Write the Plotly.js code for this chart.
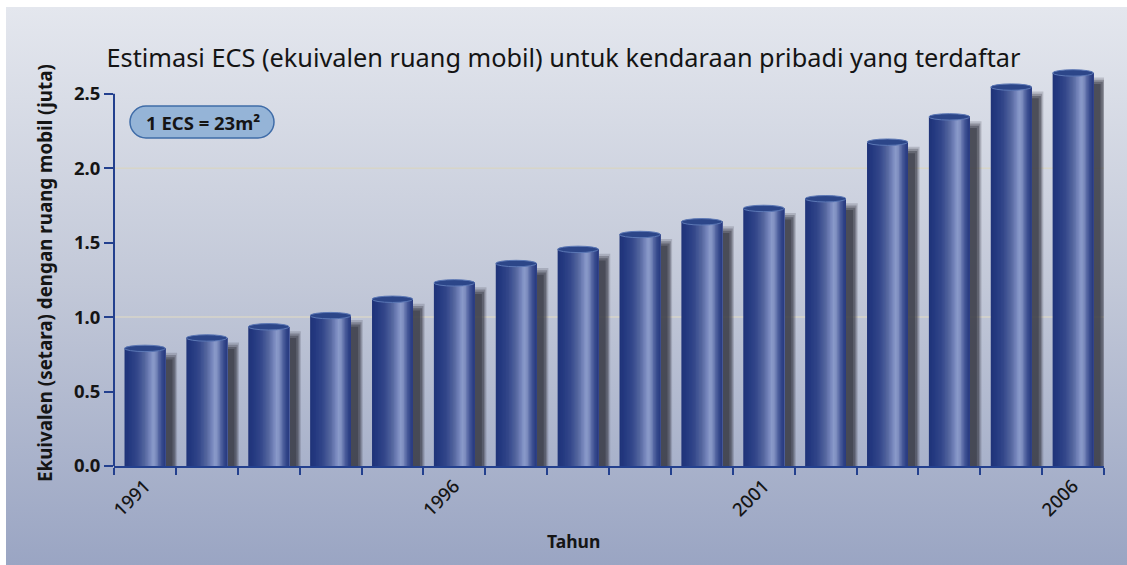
<!DOCTYPE html>
<html><head><meta charset="utf-8">
<script src="https://cdn.plot.ly/plotly-3.0.1.min.js"></script>
<style>
html,body{margin:0;padding:0;background:#ffffff;overflow:hidden;}
#bg{position:absolute;left:6px;top:7px;width:1121px;height:558px;background:linear-gradient(to bottom,#e4e7ee 0%,#c2c8d8 50%,#9aa5c3 100%);}
#chart{position:absolute;left:0;top:0;width:1127px;height:565px;}
</style></head><body>
<div id="bg"></div><div id="chart"></div>
<script>
// ---- data ----
const years = ['1991','1992','1993','1994','1995','1996','1997','1998','1999','2000','2001','2002','2003','2004','2005','2006'];
const ecsMillions = [0.79, 0.86, 0.935, 1.01, 1.12, 1.23, 1.36, 1.455, 1.555, 1.64, 1.73, 1.795, 2.175, 2.345, 2.545, 2.64];
const labelledYears = ['1991','1996','2001','2006'];
const yTicks = [0, 0.5, 1.0, 1.5, 2.0, 2.5];
const gridValues = [1.0, 2.0];
const titleText = 'Estimasi ECS (ekuivalen ruang mobil) untuk kendaraan pribadi yang terdaftar';
const yTitleText = 'Ekuivalen (setara) dengan ruang mobil (juta)';
const xTitleText = 'Tahun';
const noteText = '1 ECS = 23m²';

// ---- styling ----
const FONT = 'Noto Sans, Open Sans, sans-serif';
const AXIS = '#23408e';
const W = 1127, H = 565;
const M = {l:114, r:23, t:64, b:99};
const YMAX = 2.7;
const BARW = 0.66;
const px2x = p => (p - M.l) / (W - M.l - M.r);
const px2y = p => (H - M.b - p) / (H - M.t - M.b);

const stops = [[0,'#1f3378'],[0.12,'#243980'],[0.3,'#32468a'],[0.5,'#55679f'],[0.62,'#7585bb'],[0.7,'#8a9aca'],[0.76,'#8090c1'],[0.85,'#50629f'],[0.93,'#33468a'],[1,'#27397f']];
function hex(c){return [parseInt(c.slice(1,3),16),parseInt(c.slice(3,5),16),parseInt(c.slice(5,7),16)];}
function colorAt(t){
  for(let i=0;i<stops.length-1;i++){
    const [a,ca]=stops[i],[b,cb]=stops[i+1];
    if(t>=a&&t<=b){const f=(t-a)/(b-a);const A=hex(ca),B=hex(cb);
      return 'rgb('+A.map((v,k)=>Math.round(v+(B[k]-v)*f)).join(',')+')';}
  }
  return stops[stops.length-1][1];
}

const traces = [];
// soft drop shadows
const shadowLayers = [
  {dx:0.15, w:BARW+0.08, top:-0.03, base:-0.065, col:'rgba(55,57,68,0.20)'},
  {dx:0.15, w:BARW+0.04, top:-0.045, base:-0.055, col:'rgba(55,57,68,0.32)'},
  {dx:0.15, w:BARW,      top:-0.06, base:-0.045, col:'rgba(55,57,68,0.45)'},
  {dx:0.14, w:BARW-0.05, top:-0.075, base:-0.035, col:'rgba(55,57,68,0.55)'}
];
shadowLayers.forEach(s=>{
  traces.push({type:'bar', x:years, y:ecsMillions.map(v=>v+s.top-s.base), base:s.base,
    width:s.w, offset:-s.w/2+s.dx, marker:{color:s.col, line:{width:0}},
    cliponaxis:false, hoverinfo:'skip', showlegend:false});
});
// cylinder body: nested strips (each reaches the right edge, so no seams)
const N = 28;
const sw = BARW/N;
for(let i=0;i<N;i++){
  traces.push({type:'bar', x:years, y:ecsMillions, width:BARW-i*sw, offset:-BARW/2+i*sw,
    marker:{color:colorAt((i+0.5)/N), line:{width:0}}, cliponaxis:false,
    hoverinfo:i===0?'x+y':'skip', showlegend:false});
}

const shapes = [];
gridValues.forEach(g=>shapes.push({type:'line', xref:'paper', x0:0, x1:1, yref:'y', y0:g, y1:g,
  line:{color:'#d7d5c8', width:1.5}, layer:'below'}));
shapes.push({type:'line', xref:'paper', x0:0, x1:0, yref:'y', y0:yTicks[0], y1:yTicks[yTicks.length-1],
  line:{color:AXIS, width:2}, layer:'above'});
// cylinder tops
ecsMillions.forEach((v,i)=>{
  shapes.push({type:'circle', xref:'x', yref:'y', x0:i-BARW/2, x1:i+BARW/2,
    ysizemode:'pixel', yanchor:v, y0:-3.2, y1:3.2,
    fillcolor:'#2c4689', line:{color:'#5b77b5', width:1}, layer:'above'});
});
// note pill
const P = (x,y)=>px2x(x).toFixed(5)+','+px2y(y).toFixed(5);
const pill = 'M'+P(146,106)+' L'+P(258,106)+' C'+P(266.8,106)+' '+P(274,113.2)+' '+P(274,122)+
  ' C'+P(274,130.8)+' '+P(266.8,138)+' '+P(258,138)+' L'+P(146,138)+' C'+P(137.2,138)+' '+P(130,130.8)+' '+P(130,122)+
  ' C'+P(130,113.2)+' '+P(137.2,106)+' '+P(146,106)+' Z';
shapes.push({type:'path', xref:'paper', yref:'paper', path:pill, fillcolor:'#95b4d7', line:{color:'#3f6ca8', width:1.5}, layer:'above'});

const layout = {
  width:W, height:H, margin:M,
  paper_bgcolor:'rgba(0,0,0,0)', plot_bgcolor:'rgba(0,0,0,0)',
  barmode:'overlay', showlegend:false,
  title:{text:titleText, font:{family:FONT, size:25.3, color:'#141414'}, xref:'container', x:0.5, xanchor:'center', yref:'container', y:1-58/H, yanchor:'middle'},
  xaxis:{type:'category', range:[-0.5, years.length-0.5], tickvals:years,
    ticktext:years.map(y=>labelledYears.includes(y)?y:''), tickson:'boundaries',
    ticks:'outside', ticklen:7, tickwidth:2, tickcolor:AXIS, showline:true, linecolor:AXIS, linewidth:2,
    showgrid:false, zeroline:false, tickangle:-45, automargin:false,
    tickfont:{family:FONT, size:18.5, color:'#151515', weight:500}, fixedrange:true},
  yaxis:{range:[0, YMAX], tickvals:yTicks, tickformat:'.1f', ticks:'outside', ticklen:9, tickwidth:2, tickcolor:AXIS,
    showline:false, showgrid:false, zeroline:false, automargin:false,
    tickfont:{family:FONT, size:18.5, color:'#151515', weight:'bold'}, fixedrange:true},
  shapes:shapes,
  annotations:[
    {text:yTitleText, xref:'paper', yref:'paper', x:px2x(45), y:px2y(273), textangle:-90, showarrow:false,
     xanchor:'center', yanchor:'middle', font:{family:FONT, size:18.8, color:'#151515', weight:'bold'}},
    {text:xTitleText, xref:'paper', yref:'paper', x:px2x(573), y:px2y(541), showarrow:false,
     xanchor:'center', yanchor:'middle', font:{family:FONT, size:17.5, color:'#151515', weight:'bold'}},
    {text:noteText, xref:'paper', yref:'paper', x:px2x(203), y:px2y(122), showarrow:false,
     xanchor:'center', yanchor:'middle', font:{family:FONT, size:18.5, color:'#151515', weight:'bold'}}
  ]
};
Plotly.newPlot('chart', traces, layout, {displayModeBar:false, staticPlot:true});
</script>
</body></html>
